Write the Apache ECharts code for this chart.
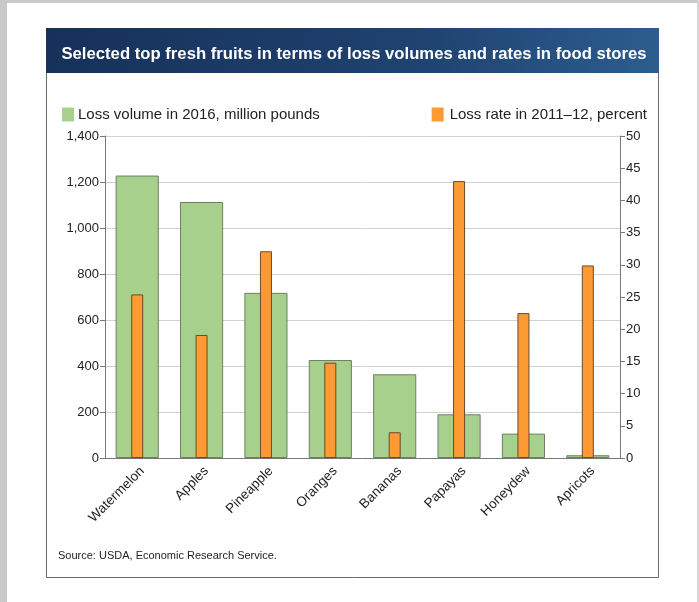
<!DOCTYPE html>
<html>
<head>
<meta charset="utf-8">
<script src="https://cdn.jsdelivr.net/npm/echarts@6/dist/echarts.min.js"></script>
<style>
  html, body { margin: 0; padding: 0; background: #fff; }
  #chart { width: 699px; height: 602px; }
</style>
</head>
<body>
<div id="chart"></div>
<script>
// fruits and values
const fruits = ['Watermelon', 'Apples', 'Pineapple', 'Oranges', 'Bananas', 'Papayas', 'Honeydew', 'Apricots']
const lossVolume = [1228, 1113, 718, 426, 364, 190, 106, 12]
const lossRate = [25.4, 19.1, 32.1, 14.8, 4.0, 43.0, 22.5, 29.9]
const volumeTicks = { min: 0, max: 1400, interval: 200 }
const rateTicks = { min: 0, max: 50, interval: 5 }

const font = 'Liberation Sans, Arial, sans-serif'
var myChart = echarts.init(document.getElementById('chart'))

myChart.setOption({
  animation: false,
  textStyle: { fontFamily: font },
  title: {
    text: 'Selected top fresh fruits in terms of loss volumes and rates in food stores',
    left: 349, top: 41, textAlign: 'center',
    textStyle: { color: '#fff', fontSize: 16.7, fontWeight: 'bold', fontFamily: font }
  },
  graphic: [
    // page edges
    { type: 'rect', shape: { x: 0, y: 0, width: 7, height: 602 }, style: { fill: '#c9c9c9' }, z: -10 },
    { type: 'rect', shape: { x: 0, y: 0, width: 699, height: 3 }, style: { fill: '#c9c9c9' }, z: -10 },
    { type: 'rect', shape: { x: 697, y: 0, width: 2, height: 602 }, style: { fill: '#d6d6d6' }, z: -10 },
    // panel
    { type: 'rect', shape: { x: 46.5, y: 28.5, width: 612, height: 549 }, style: { fill: 'none', stroke: '#6b6b6b', lineWidth: 1 }, z: -5 },
    { type: 'rect', shape: { x: 46, y: 28, width: 613, height: 45 },
      style: { fill: new echarts.graphic.LinearGradient(0, 0, 1, 0.3, [
        { offset: 0, color: '#16315a' }, { offset: 0.6, color: '#1f426f' }, { offset: 1, color: '#2c5d8d' }
      ]) }, z: -4 },
    { type: 'text', left: 58, top: 550, style: { text: 'Source: USDA, Economic Research Service.', fill: '#222', font: '11px ' + font } }
  ],
  legend: [
    {
      data: ['Loss volume in 2016, million pounds'],
      left: 57, top: 102, icon: 'rect', itemWidth: 12, itemHeight: 14, itemGap: 4,
      itemStyle: { borderWidth: 0 },
      textStyle: { fontSize: 15, color: '#222', padding: [0, 0, 0, -1] }
    },
    {
      data: ['Loss rate in 2011–12, percent'],
      right: 47, top: 102, icon: 'rect', itemWidth: 12, itemHeight: 14,
      itemStyle: { borderWidth: 0 },
      textStyle: { fontSize: 15, color: '#222', padding: [0, 0, 0, 1] }
    }
  ],
  grid: { left: 105, right: 79, top: 136, bottom: 144 },
  xAxis: [
    {
      type: 'category', data: fruits,
      axisLine: { lineStyle: { color: '#777' } },
      axisTick: { length: 5, lineStyle: { color: '#777' } },
      axisLabel: { rotate: 45, fontSize: 13.5, color: '#222', margin: 6, verticalAlign: 'top' }
    },
    { type: 'category', data: fruits, show: false }
  ],
  yAxis: [
    {
      type: 'value', ...volumeTicks,
      axisLine: { show: true, lineStyle: { color: '#777' } },
      axisTick: { show: true, length: 5, lineStyle: { color: '#777' } },
      axisLabel: { fontSize: 13, color: '#222', margin: 6, formatter: v => v.toLocaleString('en-US') },
      splitLine: { lineStyle: { color: '#d2d2d2' } }
    },
    {
      type: 'value', ...rateTicks, position: 'right',
      axisLine: { show: true, lineStyle: { color: '#777' } },
      axisTick: { show: true, length: 5, lineStyle: { color: '#777' } },
      axisLabel: { fontSize: 13, color: '#222', margin: 6 },
      splitLine: { show: false }
    }
  ],
  series: [
    {
      name: 'Loss volume in 2016, million pounds', type: 'bar',
      xAxisIndex: 0, yAxisIndex: 0, data: lossVolume, barWidth: '67%',
      itemStyle: { color: '#a8d08d', borderColor: '#6e7f64', borderWidth: 1 }
    },
    {
      name: 'Loss rate in 2011–12, percent', type: 'bar',
      xAxisIndex: 1, yAxisIndex: 1, data: lossRate, barWidth: 12,
      itemStyle: { color: '#fd9a33', borderColor: '#6b4a2a', borderWidth: 1 }
    }
  ]
})
</script>
</body>
</html>
